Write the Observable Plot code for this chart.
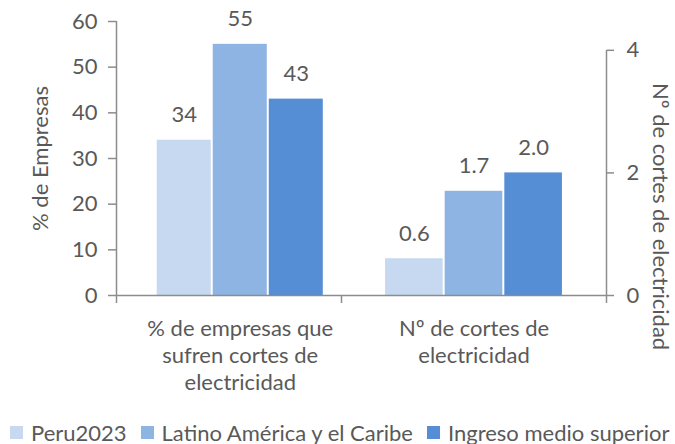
<!DOCTYPE html>
<html>
<head>
<meta charset="utf-8">
<script src="https://cdn.jsdelivr.net/npm/d3@7"></script>
<script src="https://cdn.jsdelivr.net/npm/@observablehq/plot@0.6"></script>
<style>
  body { margin: 0; background: #fff; }
  #chart { width: 675px; font-family: Lato, "Open Sans", sans-serif; }
  .lg-swatches { justify-content: flex-start; flex-wrap: nowrap !important; margin: 0 !important; padding-left: 10px; min-height: 24px !important; height: 24px; }
  .lg-swatch { margin-right: 14px !important; white-space: nowrap; }
  .lg-swatch > svg { margin-right: 8px !important; }
</style>
</head>
<body>
<div id="chart"></div>
<script>
// Categories (x axis)
const categories = [
  "% de empresas que\nsufren cortes de\nelectricidad",
  "Nº de cortes de\nelectricidad"
];
// Series (legend)
const series = ["Peru2023", "Latino América y el Caribe", "Ingreso medio superior"];
// % of firms suffering power outages (left axis)
const shareFirms = [34, 55, 43];
// Number of power outages (right axis)
const outages = [0.6, 1.7, 2.0];
// Axis ticks
const leftTicks = [0, 10, 20, 30, 40, 50, 60];
const rightTicks = [0, 2, 4];

const palette = ["#C6D9F0", "#8EB4E3", "#558ED5"];
const textColor = "#595959";
const lineColor = "#8C8C8C";
const font = "Lato, 'Open Sans', sans-serif";

// secondary axis: 0–4.47 maps onto the primary 0–60
const rightMax = 4.47;
const k = 60 / rightMax;

const rows = [
  ...shareFirms.map((v, i) => ({cat: 0, s: i, series: series[i], y: v, label: d3.format("d")(v)})),
  ...outages.map((v, i) => ({cat: 1, s: i, series: series[i], y: v * k, label: d3.format(".1f")(v)}))
];

// layout of each cluster along the x scale (category i spans [i, i+1])
const groupCenter = [0.55, 1.5];
const barStep = [0.249, 0.225];
const x1 = d => groupCenter[d.cat] + (d.s - 1.5) * barStep[d.cat];
const x2 = d => groupCenter[d.cat] + (d.s - 0.5) * barStep[d.cat];
const xm = d => groupCenter[d.cat] + (d.s - 1) * barStep[d.cat];

const plot = Plot.plot({
  width: 675,
  height: 420,
  marginLeft: 116,
  marginRight: 69,
  marginTop: 21,
  marginBottom: 125,
  x: {type: "linear", domain: [0, 1, 2], range: [116, 341, 606]},
  y: {type: "linear", domain: [0, 60], range: [295, 21]},
  color: {domain: series, range: palette},
  style: {fontFamily: font, fontSize: "22px", color: textColor, background: "#fff"},
  marks: [
    Plot.rectY(rows, {x1, x2, y: "y", fill: "series", insetLeft: 1, insetRight: 1}),
    Plot.ruleY([0], {stroke: lineColor, strokeWidth: 1.5}),
    Plot.ruleX([0], {y1: 0, y2: 60, stroke: lineColor, strokeWidth: 1.5}),
    Plot.ruleX([2], {y1: 0, y2: rightTicks[rightTicks.length - 1] * k, stroke: lineColor, strokeWidth: 1.5}),
    Plot.axisY({ticks: leftTicks, tickSize: 8, tickPadding: 11, label: null, stroke: lineColor, strokeWidth: 1.5, fill: textColor, fontSize: 22}),
    Plot.axisY({anchor: "right", ticks: rightTicks.map(t => t * k), tickFormat: d => Math.round(d / k), tickSize: 7, tickPadding: 13, label: null, stroke: lineColor, strokeWidth: 1.5, fill: textColor, fontSize: 22}),
    Plot.axisX({ticks: [0, 1, 2], tickSize: 8, tickFormat: () => "", label: null, stroke: lineColor, strokeWidth: 1.5}),
    Plot.text(rows, {x: xm, y: "y", text: "label", dy: -25, fill: textColor, fontSize: 22}),
    Plot.text(categories, {x: (d, i) => groupCenter[i], frameAnchor: "bottom", lineAnchor: "top", dy: 21, lineHeight: 1.23, fill: textColor, fontSize: 22}),
    Plot.text(["% de Empresas"], {frameAnchor: "left", textAnchor: "middle", dx: -76, rotate: -90, fill: textColor, fontSize: 22}),
    Plot.text(["Nº de cortes de electricidad"], {frameAnchor: "right", textAnchor: "middle", dx: 54, dy: 58, rotate: 90, fill: textColor, fontSize: 22})
  ]
});

const legend = Plot.legend({
  color: {type: "ordinal", domain: series, range: palette},
  legend: "swatches",
  swatchSize: 13,
  className: "lg",
  style: {fontFamily: font, fontSize: "22px", color: textColor}
});

const chart = document.getElementById("chart");
chart.append(plot, legend);
</script>
</body>
</html>
